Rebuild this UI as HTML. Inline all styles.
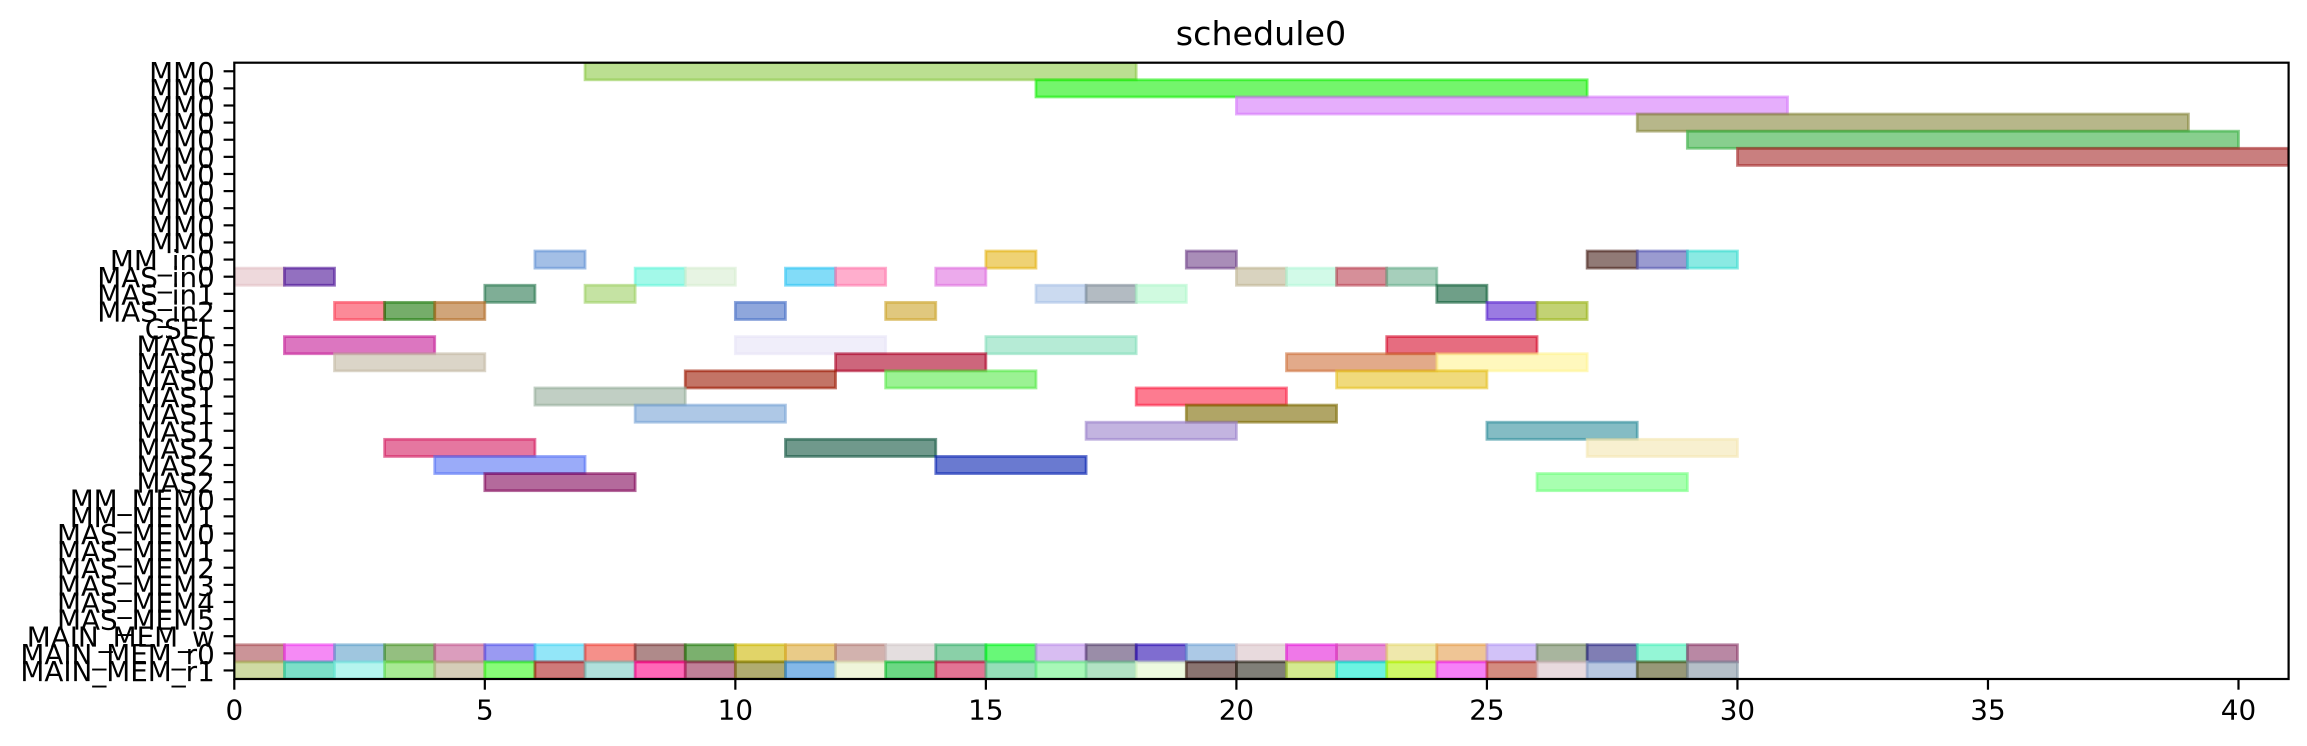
<!DOCTYPE html>
<html lang="en">
<head>
<meta charset="utf-8">
<title>schedule0</title>
<style>
html,body{margin:0;padding:0;background:#fff;}
svg{display:block;}
text{font-family:"DejaVu Sans","Liberation Sans",sans-serif;fill:#000;}
</style>
</head>
<body>
<svg id="chart" xmlns="http://www.w3.org/2000/svg" width="2307" height="746" viewBox="0 0 2307 746">
  <rect x="0" y="0" width="2307" height="746" fill="#ffffff"/>
  <text x="1261" y="45" font-size="33.3" text-anchor="middle">schedule0</text>
  <defs>
    <clipPath id="plot-clip"><rect x="234.3" y="62.7" width="2054.3" height="616.3"/></clipPath>
  </defs>
  <g id="bars" clip-path="url(#plot-clip)"></g>
  <g id="x-axis"></g>
  <g id="y-axis"></g>
  <rect x="234.3" y="62.7" width="2054.3" height="616.3" fill="none" stroke="#000" stroke-width="2.2"/>
</svg>
<script>
const rowLabels = ["MM0","MM0","MM0","MM0","MM0","MM0","MM0","MM0","MM0","MM0","MM0","MM_in0","MAS_in0","MAS_in1","MAS_in2","CSEL","MAS0","MAS0","MAS0","MAS1","MAS1","MAS1","MAS2","MAS2","MAS2","MM_MEM0","MM_MEM1","MAS_MEM0","MAS_MEM1","MAS_MEM2","MAS_MEM3","MAS_MEM4","MAS_MEM5","MAIN_MEM_w","MAIN_MEM_r0","MAIN_MEM_r1"];
const xTickValues = [0,5,10,15,20,25,30,35,40];

const barRows = [
0,1,2,3,4,5,
11,11,11,11,11,11,
12,12,12,12,12,12,12,12,12,12,12,
13,13,13,13,13,13,
14,14,14,14,14,14,14,
16,16,16,16,
17,17,17,17,
18,18,18,
19,19,
20,20,
21,21,
22,22,22,
23,23,
24,24,
34,34,34,34,34,34,34,34,34,34,34,34,34,34,34,34,34,34,34,34,34,34,34,34,34,34,34,34,34,34,
35,35,35,35,35,35,35,35,35,35,35,35,35,35,35,35,35,35,35,35,35,35,35,35,35,35,35,35,35,35
];
const barStarts = [
7,16,20,28,29,30,
6,15,19,27,28,29,
0,1,8,9,11,12,14,20,21,22,23,
5,7,16,17,18,24,
2,3,4,10,13,25,26,
1,10,15,23,
2,12,21,24,
9,13,22,
6,18,
8,19,
17,25,
3,11,27,
4,14,
5,26,
0,1,2,3,4,5,6,7,8,9,10,11,12,13,14,15,16,17,18,19,20,21,22,23,24,25,26,27,28,29,
0,1,2,3,4,5,6,7,8,9,10,11,12,13,14,15,16,17,18,19,20,21,22,23,24,25,26,27,28,29
];
const barDurations = [
11,11,11,11,11,11,
1,1,1,1,1,1,
1,1,1,1,1,1,1,1,1,1,1,
1,1,1,1,1,1,
1,1,1,1,1,1,1,
3,3,3,3,
3,3,3,3,
3,3,3,
3,3,
3,3,
3,3,
3,3,3,
3,3,
3,3,
1,1,1,1,1,1,1,1,1,1,1,1,1,1,1,1,1,1,1,1,1,1,1,1,1,1,1,1,1,1,
1,1,1,1,1,1,1,1,1,1,1,1,1,1,1,1,1,1,1,1,1,1,1,1,1,1,1,1,1,1
];
const barFills = [
"#bbdf91","#74f56c","#e6aefc","#b7b78a","#88cf8e","#c97f7f",
"#a3bfe6","#efd274","#a98db8","#917a76","#9a9bd0","#8aeae3",
"#eed9dc","#9370c0","#a3f9e9","#e7f4e3","#82dcf8","#ffaecd","#ecaaec","#d9d3bf","#d2fae8","#d68f99","#a6cfbb",
"#7fae96","#c5e3a3","#cbdaf0","#b3bbc2","#d0fae0","#6f9f88",
"#fc8a98","#75ad6a","#d0a57a","#8fa7dc","#e0c87e","#9b7be2","#c2d274",
"#dc76c0","#f0eefa","#b6ebd6","#e66d80",
"#dbd5c8","#cd667c","#e2aa8a","#fff8bd",
"#c37461","#9bf293","#f0da7c",
"#c1cfc4","#fd7b90",
"#aec8e6","#b0a565",
"#c3b4e0","#84bcc4",
"#e577a0","#70998c","#f8f0d0",
"#9aabf9","#6a7ad0",
"#b46a9c","#a8ffb0",
"#cb9498","#f58af5","#9fc6df","#94bf80","#db9dbd","#9a9af2","#93e6f8","#f5908a","#af8a8a","#7bb06e","#e1d468","#e9cb88","#d2b2ae","#e4dedf","#8ad0a8","#68f878","#d8bdf2","#9a8da8","#7f6dd0","#acc9e6","#e8dadd","#ef78e8","#e792d4","#efe8ac","#efc595","#d2c2f8","#a8b59e","#807eb4","#94f6d6","#b988a4",
"#cfdaa4","#7cdfc8","#b5f5ee","#a8ea94","#d5cdb8","#88fc78","#cf7a7a","#b0e0dc","#ff68b8","#c08098","#b0ac70","#84b8e8","#eff5da","#6cd884","#e27494","#95deb8","#a8f8b8","#b2e2c4","#eefbe0","#8a7470","#807f78","#d4ea90","#6cf3e2","#cff868","#f680f8","#d48c80","#e8dade","#b8c8e0","#989878","#b5bfc8"
];

const SVG_NS = "http://www.w3.org/2000/svg";
const plotLeft = 234.3, plotRight = 2288.6, plotTop = 62.7, plotBottom = 679;
const xMin = 0, xMax = 41;
const yMin = -0.5, yMax = 35.5;
const alpha = 0.6;
const edgeWidth = 2.78;
const tickLength = 9.7;

function xScale(v) {
  return plotLeft + (v - xMin) / (xMax - xMin) * (plotRight - plotLeft);
}
function yScale(r) {
  return plotTop + (r - yMin) / (yMax - yMin) * (plotBottom - plotTop);
}
function baseColor(hex) {
  const parts = [1, 3, 5].map(function (i) {
    const shown = parseInt(hex.substr(i, 2), 16);
    return Math.max(0, Math.min(255, Math.round((shown - 255 * (1 - alpha)) / alpha)));
  });
  return "rgb(" + parts.join(",") + ")";
}
function make(tag, attrs) {
  const el = document.createElementNS(SVG_NS, tag);
  Object.keys(attrs).forEach(function (k) { el.setAttribute(k, attrs[k]); });
  return el;
}

const barsLayer = document.getElementById("bars");
barRows.forEach(function (row, i) {
  const start = barStarts[i];
  const end = start + barDurations[i];
  const color = baseColor(barFills[i]);
  const bar = make("rect", {
    x: xScale(start),
    y: yScale(row - 0.5),
    width: xScale(end) - xScale(start),
    height: yScale(row + 0.5) - yScale(row - 0.5),
    fill: color,
    "fill-opacity": alpha,
    stroke: color,
    "stroke-opacity": alpha,
    "stroke-width": edgeWidth
  });
  
  
  barsLayer.appendChild(bar);
});

const xAxis = document.getElementById("x-axis");
xTickValues.forEach(function (v) {
  const x = xScale(v);
  const tick = make("line", {
    x1: x, x2: x, y1: plotBottom, y2: plotBottom + tickLength + 1,
    stroke: "#000", "stroke-width": 2.2
  });
  
  
  xAxis.appendChild(tick);
  const label = make("text", {
    x: x, y: 719.5, "font-size": 27.8, "text-anchor": "middle"
  });
  label.textContent = String(v);
  
  
  xAxis.appendChild(label);
});

const yAxis = document.getElementById("y-axis");
rowLabels.forEach(function (name, i) {
  const y = yScale(i);
  const tick = make("line", {
    x1: plotLeft - tickLength - 1, x2: plotLeft, y1: y, y2: y,
    stroke: "#000", "stroke-width": 2.2
  });
  
  
  yAxis.appendChild(tick);
  const label = make("text", {
    x: 214.8, y: y + 10.5, "font-size": 27.8, "text-anchor": "end"
  });
  label.textContent = name;
  
  
  yAxis.appendChild(label);
});
</script>
</body>
</html>
